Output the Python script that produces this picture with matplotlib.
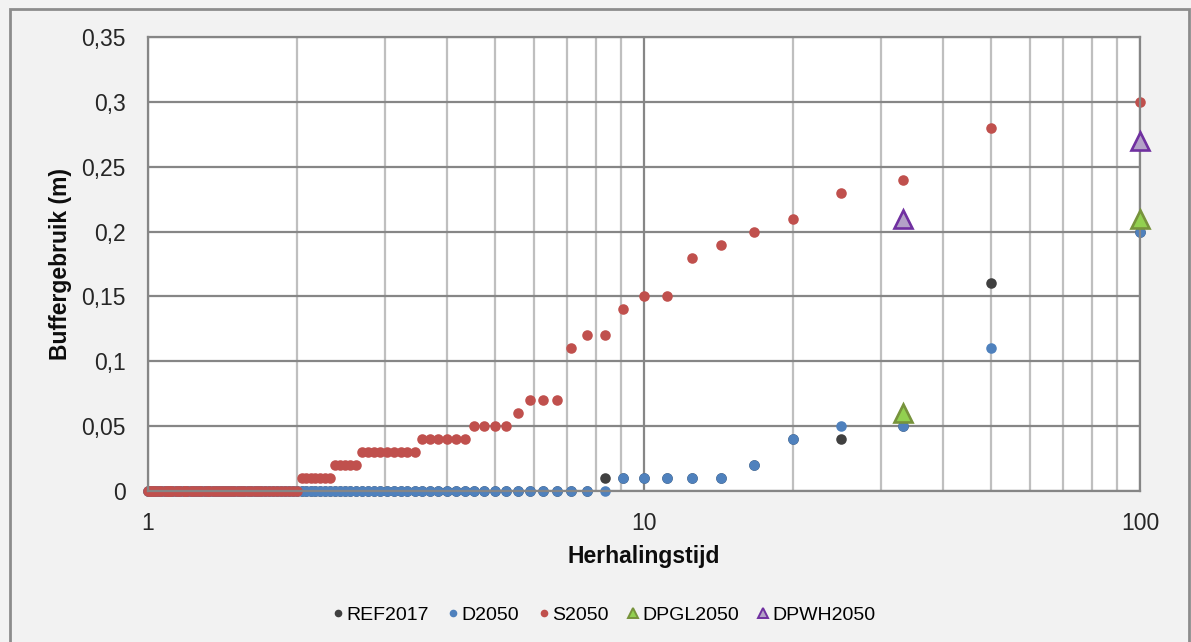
#!/usr/bin/env python3

import matplotlib
matplotlib.use("Agg")
import matplotlib.pyplot as plt
from matplotlib.lines import Line2D
from matplotlib.patches import Rectangle
from matplotlib.ticker import FixedLocator, LogLocator, NullFormatter
#----

# Herhalingstijd (jaar) per rangnummer 1..100
herhalingstijd = [
    100, 50, 33.33, 25, 20, 16.67, 14.29, 12.5, 11.11, 10,
    9.09, 8.33, 7.69, 7.14, 6.67, 6.25, 5.88, 5.56, 5.26, 5,
    4.76, 4.55, 4.35, 4.17, 4, 3.85, 3.7, 3.57, 3.45, 3.33,
    3.23, 3.13, 3.03, 2.94, 2.86, 2.78, 2.7, 2.63, 2.56, 2.5,
    2.44, 2.38, 2.33, 2.27, 2.22, 2.17, 2.13, 2.08, 2.04, 2,
    1.96, 1.92, 1.89, 1.85, 1.82, 1.79, 1.75, 1.72, 1.69, 1.67,
    1.64, 1.61, 1.59, 1.56, 1.54, 1.52, 1.49, 1.47, 1.45, 1.43,
    1.41, 1.39, 1.37, 1.35, 1.33, 1.32, 1.3, 1.28, 1.27, 1.25,
    1.23, 1.22, 1.2, 1.19, 1.18, 1.16, 1.15, 1.14, 1.12, 1.11,
    1.1, 1.09, 1.08, 1.06, 1.05, 1.04, 1.03, 1.02, 1.01, 1,
]

ref2017 = ([0.20, 0.16, 0.05, 0.04, 0.04, 0.02, 0.01, 0.01, 0.01, 0.01,
            0.01, 0.01] + [0.0] * 88)
d2050 = ([0.20, 0.11, 0.05, 0.05, 0.04, 0.02, 0.01, 0.01, 0.01, 0.01,
          0.01] + [0.0] * 89)
s2050 = ([0.30, 0.28, 0.24, 0.23, 0.21, 0.20, 0.19, 0.18, 0.15, 0.15,
          0.14, 0.12, 0.12, 0.11, 0.07, 0.07, 0.07, 0.06]
         + [0.05] * 4 + [0.04] * 6 + [0.03] * 9 + [0.02] * 5 + [0.01] * 7
         + [0.0] * 51)

dp_x = [33.33, 100]
dpgl2050 = [0.06, 0.21]
dpwh2050 = [0.21, 0.27]

y_ticks = [0, 0.05, 0.1, 0.15, 0.2, 0.25, 0.3, 0.35]
x_ticks = [1, 10, 100]

c_ref, c_d, c_s = '#404040', '#4f81bd', '#c0504d'
gl_face, gl_edge = '#92d050', '#77933c'
wh_face, wh_edge = '#b3a2c7', '#7030a0'

plt.rcParams['font.family'] = ['Liberation Sans', 'DejaVu Sans']

fig = plt.figure(figsize=(11.91, 6.42), dpi=100)
fig.patch.set_facecolor('#f2f2f2')
# outer chart border
fig.patches.append(Rectangle((10 / 1191, -0.1), 1179 / 1191, 1.1 - 9 / 642,
                             transform=fig.transFigure, fill=False,
                             edgecolor='#8c8c8c', linewidth=2))

ax = fig.add_axes([148 / 1191, 1 - 491 / 642, 992 / 1191, 454 / 642])
ax.set_facecolor('white')

dot = dict(linestyle='none', marker='o', markersize=7.6, markeredgewidth=0,
           clip_on=False)
ax.plot(herhalingstijd, ref2017, color=c_ref, **dot)
ax.plot(herhalingstijd, d2050, color=c_d, **dot)
ax.plot(herhalingstijd, s2050, color=c_s, **dot)
ax.plot(dp_x, dpgl2050, linestyle='none', marker='^', markersize=12.5,
        markerfacecolor=gl_face, markeredgecolor=gl_edge,
        markeredgewidth=1.9, clip_on=False, zorder=4)
ax.plot(dp_x, dpwh2050, linestyle='none', marker='^', markersize=12.5,
        markerfacecolor=wh_face, markeredgecolor=wh_edge,
        markeredgewidth=1.9, clip_on=False, zorder=4)

ax.set_xscale('log')
ax.set_xlim(1, 100)
ax.set_ylim(0, 0.35)
ax.xaxis.set_major_locator(FixedLocator(x_ticks))
ax.set_xticklabels([str(t) for t in x_ticks])
ax.xaxis.set_minor_locator(LogLocator(base=10, subs=range(2, 10)))
ax.xaxis.set_minor_formatter(NullFormatter())
ax.set_yticks(y_ticks)
ax.set_yticklabels(['{:g}'.format(v).replace('.', ',') for v in y_ticks])

ax.tick_params(axis='both', which='both', length=0, labelsize=16.5,
               colors='#262626')
ax.tick_params(axis='x', pad=15)
ax.tick_params(axis='y', pad=16)

ax.grid(True, which='major', axis='y', color='#868686', linewidth=1.6)
ax.grid(True, which='major', axis='x', color='#868686', linewidth=1.6)
ax.grid(True, which='minor', axis='x', color='#bfbfbf', linewidth=1.6)
ax.set_axisbelow(True)
for side in ax.spines:
    ax.spines[side].set_color('#868686')
    ax.spines[side].set_linewidth(1.6)

ax.set_xlabel('Herhalingstijd', fontsize=16.5, fontweight='bold',
              color='#0d0d0d', labelpad=7)
ax.set_ylabel('Buffergebruik (m)', fontsize=16.5, fontweight='bold',
              color='#0d0d0d', labelpad=7)

# legend with smaller markers, as in the original
handles = [
    Line2D([], [], linestyle='none', marker='o', markersize=5.5,
           markeredgewidth=0, color=c_ref),
    Line2D([], [], linestyle='none', marker='o', markersize=5.5,
           markeredgewidth=0, color=c_d),
    Line2D([], [], linestyle='none', marker='o', markersize=5.5,
           markeredgewidth=0, color=c_s),
    Line2D([], [], linestyle='none', marker='^', markersize=7.5,
           markerfacecolor=gl_face, markeredgecolor=gl_edge,
           markeredgewidth=1.4),
    Line2D([], [], linestyle='none', marker='^', markersize=7.5,
           markerfacecolor=wh_face, markeredgecolor=wh_edge,
           markeredgewidth=1.4),
]
labels = ['REF2017', 'D2050', 'S2050', 'DPGL2050', 'DPWH2050']
fig.legend(handles, labels, loc='center', bbox_to_anchor=(0.507, 1 - 615 / 642),
           ncol=5, frameon=False, fontsize=14, handlelength=0.5,
           handletextpad=0.2, columnspacing=1.0)

fig.savefig('out.png', dpi=100, facecolor=fig.get_facecolor())
